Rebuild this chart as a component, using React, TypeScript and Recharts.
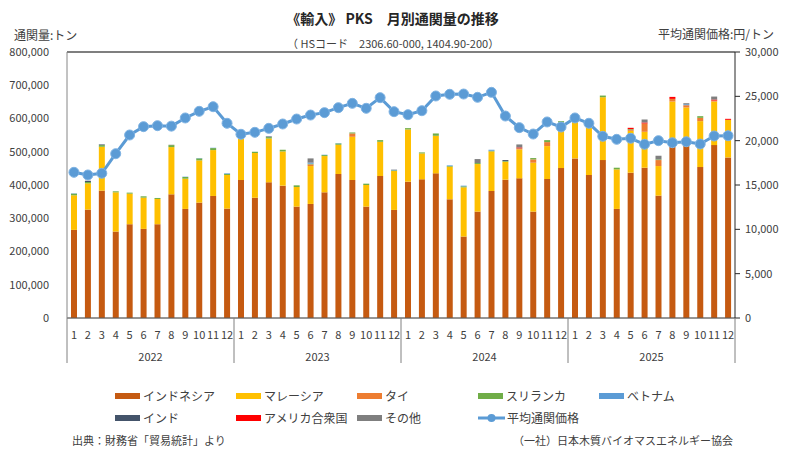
import { Bar, CartesianGrid, ComposedChart, Line, ReferenceLine, XAxis, YAxis } from "recharts";

const YEARS = ["2022", "2023", "2024", "2025"];
const MONTHS = ["1", "2", "3", "4", "5", "6", "7", "8", "9", "10", "11", "12"];

// 通関量 (千トン), 2022/1 .. 2025/12
const INDONESIA = [
  265, 326, 383, 260, 282, 268, 282, 372, 328, 347, 367, 329,
  415, 362, 408, 398, 335, 343, 378, 433, 415, 335, 427, 325,
  410, 417, 435, 357, 245, 320, 382, 416, 420, 320, 418, 451,
  480, 430, 475, 328, 437, 452, 368, 515, 517, 454, 520, 483,
];
const MALAYSIA = [
  104, 79, 132, 118, 92, 94, 76, 142, 91, 127, 138, 101,
  124, 134, 132, 103, 59, 114, 109, 88, 130, 65, 103, 117,
  157, 78, 113, 98, 148, 143, 119, 54, 87, 147, 99, 137,
  115, 162, 189, 119, 126, 108, 89, 136, 116, 138, 131, 113,
];
const THAI = [
  0, 0, 0, 0, 0, 0, 0, 0, 0, 0, 0, 0,
  0, 0, 0, 0, 0, 5, 0, 0, 10, 0, 0, 0,
  0, 0, 0, 0, 0, 0, 0, 0, 2, 10, 12, 0,
  0, 0, 0, 0, 3, 25, 18, 8, 7, 10, 3, 0,
];
const SRILANKA = [
  5, 4, 5, 3, 3, 4, 3, 6, 5, 6, 6, 3,
  5, 4, 4, 5, 5, 2, 3, 4, 3, 4, 5, 2,
  4, 3, 7, 2, 3, 3, 2, 2, 1, 4, 6, 4,
  3, 3, 5, 5, 2, 0, 2, 0, 0, 5, 0, 0,
];
const VIETNAM = [
  1, 0, 0, 0, 0, 0, 0, 0, 1, 1, 1, 2,
  1, 0, 0, 0, 0, 3, 1, 1, 0, 0, 0, 1,
  0, 0, 0, 2, 2, 0, 3, 0, 0, 0, 0, 0,
  0, 0, 0, 0, 0, 0, 0, 0, 3, 0, 0, 0,
];
const INDIA = [
  0, 3, 2, 0, 0, 0, 0, 0, 0, 0, 0, 0,
  0, 0, 2, 0, 0, 1, 0, 0, 0, 0, 0, 1,
  0, 0, 0, 0, 0, 0, 0, 3, 0, 0, 0, 0,
  0, 0, 0, 0, 0, 0, 0, 0, 0, 0, 0, 0,
];
const USA = [
  0, 0, 0, 0, 0, 0, 0, 0, 0, 0, 0, 0,
  0, 0, 0, 0, 0, 0, 0, 0, 0, 0, 0, 0,
  0, 0, 0, 0, 0, 0, 0, 0, 3, 0, 0, 0,
  0, 0, 0, 0, 4, 3, 0, 6, 0, 0, 3, 3,
];
const OTHER = [
  0, 1, 0, 0, 0, 0, 0, 1, 0, 0, 0, 0,
  0, 0, 0, 0, 0, 12, 0, 0, 0, 0, 0, 0,
  0, 0, 0, 0, 0, 12, 0, 0, 9, 0, 0, 0,
  0, 0, 0, 0, 0, 9, 11, 0, 3, 0, 9, 0,
];
// 平均通関価格 (円/トン)
const PRICE = [
  16430, 16130, 16320, 18530, 20640, 21580, 21690, 21640, 22560, 23310, 23830, 21960,
  20720, 20940, 21390, 21880, 22440, 22890, 23160, 23720, 24210, 23650, 24850, 23270,
  22930, 23380, 25040, 25230, 25260, 24890, 25450, 22780, 21470, 20750, 22110, 21540,
  22560, 21960, 20490, 20150, 20270, 19590, 20000, 19770, 19880, 19620, 20530, 20560,
];

const LEFT_TICKS = [0, 100000, 200000, 300000, 400000, 500000, 600000, 700000, 800000];
const RIGHT_TICKS = [0, 5000, 10000, 15000, 20000, 25000, 30000];

const SERIES = [
  { key: "indonesia", name: "インドネシア", color: "#C55A11", values: INDONESIA },
  { key: "malaysia", name: "マレーシア", color: "#FFC000", values: MALAYSIA },
  { key: "thai", name: "タイ", color: "#ED7D31", values: THAI },
  { key: "srilanka", name: "スリランカ", color: "#70AD47", values: SRILANKA },
  { key: "vietnam", name: "ベトナム", color: "#5B9BD5", values: VIETNAM },
  { key: "india", name: "インド", color: "#44546A", values: INDIA },
  { key: "usa", name: "アメリカ合衆国", color: "#FF0000", values: USA },
  { key: "other", name: "その他", color: "#7F7F7F", values: OTHER },
];
const LINE_NAME = "平均通関価格";
const LINE_COLOR = "#5B9BD5";

const data = PRICE.map((price, i) => {
  const row: Record<string, number | string> = {
    key: `${YEARS[Math.floor(i / 12)]}-${MONTHS[i % 12]}`,
    month: MONTHS[i % 12],
    year: YEARS[Math.floor(i / 12)],
    price,
  };
  SERIES.forEach((s) => (row[s.key] = s.values[i] * 1000));
  return row;
});

const FONT = "'Noto Sans CJK JP', 'Noto Sans', sans-serif";
const W = 795;
const H = 459;
const PLOT_LEFT = 67;
const PLOT_RIGHT = 735;
const PLOT_TOP = 52;
const PLOT_BOTTOM = 318;
const BAND = (PLOT_RIGHT - PLOT_LEFT) / data.length;
const TEXT = "#404040";

function MonthTick({ x, payload, index }: any) {
  const i = payload?.index ?? index;
  const row = data[i];
  const left = x - BAND / 2;
  const right = x + BAND / 2;
  return (
    <g>
      <text x={x} y={PLOT_BOTTOM + 21} textAnchor="middle" fontSize={11} fill={TEXT} fontFamily={FONT}>
        {row.month}
      </text>
      {i % 12 === 0 ? (
        <line x1={left} x2={left} y1={PLOT_BOTTOM} y2={PLOT_BOTTOM + 45} stroke="#808080" />
      ) : null}
      {i === data.length - 1 ? (
        <line x1={right} x2={right} y1={PLOT_BOTTOM} y2={PLOT_BOTTOM + 45} stroke="#808080" />
      ) : null}
      {i % 12 === 5 ? (
        <text x={right} y={PLOT_BOTTOM + 43} textAnchor="middle" fontSize={11} fill={TEXT} fontFamily={FONT}>
          {row.year}
        </text>
      ) : null}
    </g>
  );
}

function LegendBox() {
  const items = [
    ...SERIES.map((s) => ({ name: s.name, color: s.color, line: false })),
    { name: LINE_NAME, color: LINE_COLOR, line: true },
  ];
  return (
    <div style={{ position: "absolute", left: 115, top: 387, width: 620 }}>
      {items.map((it, i) => (
        <div
          key={it.name}
          style={{
            position: "absolute",
            left: (i % 5) * 121,
            top: Math.floor(i / 5) * 22,
            display: "flex",
            alignItems: "center",
            fontSize: 12,
            color: TEXT,
            whiteSpace: "nowrap",
          }}
        >
          {it.line ? (
            <svg width={27} height={12} style={{ marginRight: 2 }}>
              <line x1={0} x2={27} y1={6} y2={6} stroke={it.color} strokeWidth={3} />
              <circle cx={13.5} cy={6} r={4} fill={it.color} />
            </svg>
          ) : (
            <span style={{ display: "inline-block", width: 25, height: 6, background: it.color, marginRight: 3 }} />
          )}
          {it.name}
        </div>
      ))}
    </div>
  );
}

export default function App() {
  return (
    <div style={{ position: "absolute", left: 0, top: 0, width: W, height: H, background: "#fff", fontFamily: FONT }}>
      <div style={{ position: "absolute", left: 0, width: W - 10, top: 8, textAlign: "center", fontSize: 14, fontWeight: 700, color: "#262626" }}>
        《輸入》 PKS　月別通関量の推移
      </div>
      <div style={{ position: "absolute", left: 287, top: 37, fontSize: 11, lineHeight: "13px", color: TEXT }}>
        （ HSコード　2306.60-000, 1404.90-200）
      </div>
      <div style={{ position: "absolute", left: 14, top: 28, fontSize: 12, lineHeight: "14px", color: TEXT }}>
        通関量:トン
      </div>
      <div style={{ position: "absolute", right: 21, top: 27, fontSize: 12, lineHeight: "14px", color: TEXT }}>
        平均通関価格:円/トン
      </div>

      <ComposedChart
        width={W}
        height={H}
        data={data}
        margin={{ top: PLOT_TOP, right: W - PLOT_RIGHT - 60, bottom: H - PLOT_BOTTOM - 45, left: 0 }}
        barSize={6}
      >
        <CartesianGrid vertical={false} stroke="#a6a6a6" />
        <XAxis
          dataKey="key"
          interval={0}
          height={45}
          tickLine={false}
          axisLine={{ stroke: "#595959" }}
          tick={<MonthTick />}
        />
        <YAxis
          yAxisId="left"
          domain={[0, 800000]}
          ticks={LEFT_TICKS}
          width={PLOT_LEFT}
          tickLine={false}
          axisLine={{ stroke: "#868686" }}
          tickMargin={12}
          tickFormatter={(v: number) => v.toLocaleString("en-US")}
          tick={{ fontSize: 11, fill: TEXT, fontFamily: FONT }}
        />
        <YAxis
          yAxisId="right"
          orientation="right"
          domain={[0, 30000]}
          ticks={RIGHT_TICKS}
          width={60}
          tickSize={5}
          tickLine={{ stroke: "#262626" }}
          axisLine={{ stroke: "#262626" }}
          tickMargin={5}
          tickFormatter={(v: number) => v.toLocaleString("en-US")}
          tick={{ fontSize: 11, fill: TEXT, fontFamily: FONT }}
        />
        <ReferenceLine yAxisId="left" y={800000} stroke="#7f7f7f" strokeWidth={2} />
        {SERIES.map((s) => (
          <Bar
            key={s.key}
            yAxisId="left"
            dataKey={s.key}
            name={s.name}
            stackId="a"
            fill={s.color}
            isAnimationActive={false}
          />
        ))}
        <Line
          yAxisId="right"
          dataKey="price"
          name={LINE_NAME}
          stroke={LINE_COLOR}
          strokeWidth={3}
          dot={{ r: 5, fill: LINE_COLOR, stroke: "#7fb3e3", strokeWidth: 1 }}
          isAnimationActive={false}
        />
      </ComposedChart>

      <LegendBox />
      <div style={{ position: "absolute", left: 72, top: 432, fontSize: 11, color: TEXT }}>
        出典：財務省「貿易統計」より
      </div>
      <div style={{ position: "absolute", right: 62, top: 432, fontSize: 11, color: TEXT }}>
        （一社）日本木質バイオマスエネルギー協会
      </div>
    </div>
  );
}
